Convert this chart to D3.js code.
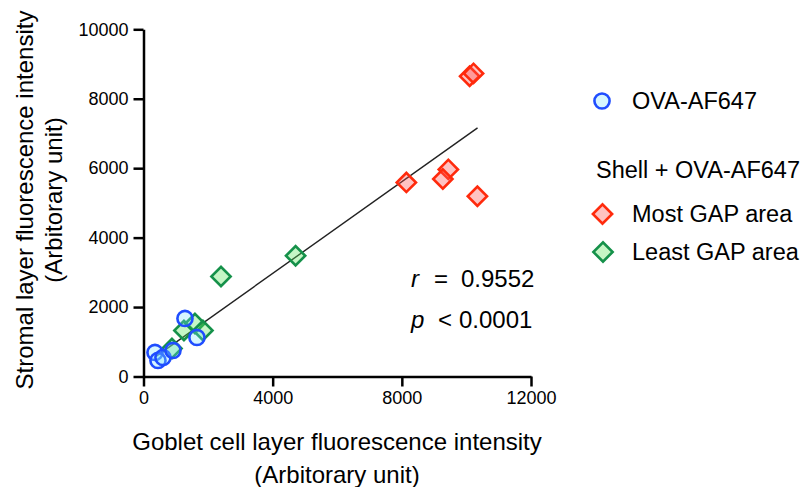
<!DOCTYPE html>
<html>
<head>
<meta charset="utf-8">
<script src="https://cdn.jsdelivr.net/npm/d3@7"></script>
<style>
  body { margin: 0; background: #fff; }
  text { font-family: "Liberation Sans", Arial, Helvetica, sans-serif; fill: #000; }
</style>
</head>
<body>
<div id="chart"></div>
<script>
// Data
var ova_x = [356, 448, 603, 912, 1284, 1655];
var ova_y = [692, 461, 548, 749, 1671, 1124];

var most_x = [10100, 10220, 8140, 9440, 9270, 10340];
var most_y = [8650, 8730, 5590, 5965, 5690, 5190];

var least_x = [881, 1253, 1593, 1840, 2400, 4710];
var least_y = [807, 1326, 1527, 1326, 2880, 3480];

// fitted line end points
var fit_x = [356, 10345];
var fit_y = [560, 7160];

var x_ticks = [0, 4000, 8000, 12000];
var y_ticks = [0, 2000, 4000, 6000, 8000, 10000];

// Variables
var chart_width = 811;
var chart_height = 487;

var svg = d3.select("#chart")
    .append("svg")
    .attr("width", chart_width)
    .attr("height", chart_height);

// Scales
var x_scale = d3.scaleLinear()
    .domain([0, 12000])
    .range([143.5, 531]);

var y_scale = d3.scaleLinear()
    .domain([0, 10000])
    .range([376.5, 29.3]);

// Axes
var x_axis = d3.axisBottom(x_scale)
    .tickValues(x_ticks)
    .tickFormat(d3.format("d"))
    .tickSizeInner(10)
    .tickSizeOuter(0)
    .tickPadding(5);

var y_axis = d3.axisLeft(y_scale)
    .tickValues(y_ticks)
    .tickFormat(d3.format("d"))
    .tickSizeInner(10)
    .tickSizeOuter(0)
    .tickPadding(5);

var gx = svg.append("g")
    .attr("transform", "translate(0," + y_scale(0) + ")")
    .call(x_axis);

var gy = svg.append("g")
    .attr("transform", "translate(" + x_scale(0) + ",0)")
    .call(y_axis);

[gx, gy].forEach(function(g){
    g.select(".domain").attr("stroke", "#000").attr("stroke-width", 2.5);
    g.selectAll(".tick line").attr("stroke", "#000").attr("stroke-width", 2.5);
    g.selectAll(".tick text")
        .attr("font-family", "Liberation Sans, Arial, sans-serif")
        .attr("font-size", 18)
        .attr("fill", "#000");
});

// Axis titles
svg.append("text")
    .attr("x", 337).attr("y", 450)
    .attr("text-anchor", "middle")
    .attr("font-size", 24)
    .text("Goblet cell layer fluorescence intensity");
svg.append("text")
    .attr("x", 337).attr("y", 483)
    .attr("text-anchor", "middle")
    .attr("font-size", 24)
    .text("(Arbitorary unit)");

svg.append("text")
    .attr("transform", "translate(33,200) rotate(-90)")
    .attr("text-anchor", "middle")
    .attr("font-size", 24)
    .text("Stromal layer fluorescence intensity");
svg.append("text")
    .attr("transform", "translate(62,200) rotate(-90)")
    .attr("text-anchor", "middle")
    .attr("font-size", 24)
    .text("(Arbitorary unit)");

// Fit line
svg.append("line")
    .attr("x1", x_scale(fit_x[0])).attr("y1", y_scale(fit_y[0]))
    .attr("x2", x_scale(fit_x[1])).attr("y2", y_scale(fit_y[1]))
    .attr("stroke", "#222")
    .attr("stroke-width", 1.4);

// Markers
var diamond = d3.symbol().type(d3.symbolSquare).size(185);
var circle = d3.symbol().type(d3.symbolCircle).size(180);

function draw_points(xs, ys, sym, rot, stroke, fill){
    svg.append("g").selectAll("path")
        .data(xs)
        .enter()
        .append("path")
        .attr("d", sym)
        .attr("transform", function(d, i){
            return "translate(" + x_scale(d) + "," + y_scale(ys[i]) + ") rotate(" + rot + ")";
        })
        .attr("fill", fill)
        .attr("stroke", stroke)
        .attr("stroke-width", 2.6);
}

draw_points(least_x, least_y, diamond, 45, "#15914a", "rgba(90,230,90,0.35)");
draw_points(most_x, most_y, diamond, 45, "#ff2a0c", "rgba(255,80,80,0.35)");
draw_points(ova_x, ova_y, circle, 0, "#1f4dff", "rgba(120,225,255,0.3)");

// Statistics
var stat = svg.append("g").attr("font-size", 24);
stat.append("text").attr("x", 411).attr("y", 287).attr("font-style", "italic").text("r");
stat.append("text").attr("x", 434).attr("y", 287).text("=");
stat.append("text").attr("x", 461).attr("y", 287).text("0.9552");
stat.append("text").attr("x", 411).attr("y", 328).attr("font-style", "italic").text("p");
stat.append("text").attr("x", 438).attr("y", 328).text("<");
stat.append("text").attr("x", 459).attr("y", 328).text("0.0001");

// Legend
var legend = svg.append("g").attr("font-size", 23.5);
legend.append("path")
    .attr("d", circle)
    .attr("transform", "translate(602,101)")
    .attr("fill", "rgba(120,225,255,0.3)")
    .attr("stroke", "#1f4dff").attr("stroke-width", 2.6);
legend.append("text").attr("x", 632).attr("y", 109).text("OVA-AF647");
legend.append("text").attr("x", 596).attr("y", 178).text("Shell + OVA-AF647");
legend.append("path")
    .attr("d", diamond)
    .attr("transform", "translate(602.5,214) rotate(45)")
    .attr("fill", "rgba(255,80,80,0.35)")
    .attr("stroke", "#ff2a0c").attr("stroke-width", 2.6);
legend.append("text").attr("x", 632).attr("y", 222).text("Most GAP area");
legend.append("path")
    .attr("d", diamond)
    .attr("transform", "translate(603,252) rotate(45)")
    .attr("fill", "rgba(90,230,90,0.35)")
    .attr("stroke", "#15914a").attr("stroke-width", 2.6);
legend.append("text").attr("x", 632).attr("y", 260).text("Least GAP area");
</script>
</body>
</html>
